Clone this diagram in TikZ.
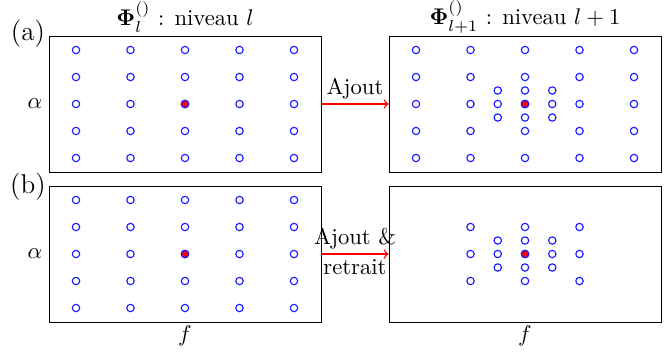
\documentclass[tikz,border=0pt]{standalone}
\usepackage{amsmath,amssymb,bm}
\usepackage{tikz}
\usetikzlibrary{positioning}
\definecolor{dotblue}{HTML}{1A1AFF}
\definecolor{dotred}{HTML}{FF0000}
\tikzset{
  panel/.style={draw,minimum width=4.216cm,minimum height=2.108cm,inner sep=0pt},
  pt/.style={draw=dotblue,line width=.5pt},
  ptc/.style={draw=dotblue,fill=dotred,line width=.5pt},
  move/.style={->,red,semithick},
  lbl/.style={black,inner sep=2pt}
}

\begin{document}
\begin{tikzpicture}[x={(0.0155cm,0)},y={(0,-0.0155cm)}]
  \useasboundingbox (0,0) rectangle (672,351);
  % panels
  \node[panel] (la) at (185,104) {};
  \node[panel] (ra) at (525,104) {};
  \node[panel] (lb) at (185,254) {};
  \node[panel] (rb) at (525,254) {};
  % coarse grids
  \foreach \cx/\cy in {185/104,525/104,185/254}
    \foreach \i in {-2,...,2}
      \foreach \j in {-2,...,2}
        \draw[pt] (\cx+\i*54.5,\cy+\j*27) circle[radius=3.7];
  \foreach \i in {-1,0,1}
    \foreach \j in {-1,0,1}
      \draw[pt] (525+\i*54.5,254+\j*27) circle[radius=3.7];
  % finer points
  \foreach \cx/\cy in {525/104,525/254}
    \foreach \i/\j in {-1/-1,0/-1,1/-1,-1/0,1/0,-1/1,0/1,1/1}
      \draw[pt] (\cx+\i*27.25,\cy+\j*13.5) circle[radius=3.7];
  \foreach \cx/\cy in {185/104,525/104,185/254,525/254}
    \draw[ptc] (\cx,\cy) circle[radius=3.7];
  % arrows
  \draw[move] (la.east) -- node[above,lbl]{Ajout} (ra.west);
  \draw[move] (lb.east) -- node[above,lbl]{Ajout \&}
    node[below,lbl]{retrait} (rb.west);
  % labels
  \node (tl) at (185,17) {$\boldsymbol{\Phi}_l^{()}$ : niveau $l$};
  \node (tr) at (525,17) {$\boldsymbol{\Phi}_{l+1}^{()}$ : niveau $l+1$};
  \node[font=\large] (pa) at (28,34) {(a)};
  \node[font=\large] (pb) at (28,187) {(b)};
  \node (aa) at (35,104) {$\alpha$};
  \node (ab) at (35,254) {$\alpha$};
  \node (fl) at (185,336) {$f$};
  \node (fr) at (525,336) {$f$};
\end{tikzpicture}
\end{document}
